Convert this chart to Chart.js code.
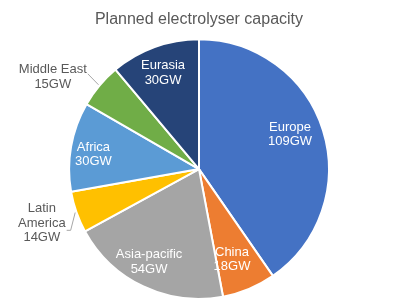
<!DOCTYPE html>
<html>
<head>
<meta charset="utf-8">
<script src="https://cdn.jsdelivr.net/npm/chart.js@4.4.1/dist/chart.umd.min.js"></script>
<style>
  html, body { margin: 0; padding: 0; background: #fff; }
  #wrap { width: 398px; height: 307px; }
</style>
</head>
<body>
<div id="wrap"><canvas id="pieChart" width="398" height="307"></canvas></div>
<script>
// Regions and planned capacity (GW), clockwise from 12 o'clock
const regions = ['Europe', 'China', 'Asia-pacific', 'Latin America', 'Africa', 'Middle East', 'Eurasia'];
const capacityGW = [109, 18, 54, 14, 30, 15, 30];

// Slice colours (Office palette)
const sliceColors = ['#4472C4', '#ED7D31', '#A5A5A5', '#FFC000', '#5B9BD5', '#70AD47', '#264478'];

// Label placement: radius factor and angle nudge (degrees) per slice
const labelRadius = [0.75, 0.74, 0.81, 1.28, 0.82, 1.33, 0.79];
const labelNudge = [-3.6, 2.6, 3, 0.3, -2.2, -7.8, -0.5];
const wrapName = [false, false, false, true, false, false, false];

// Plugin to draw the data labels (and leader lines for outside labels)
const sliceLabels = {
    id: 'sliceLabels',
    afterDatasetsDraw(chart) {
        const ctx = chart.ctx;
        const meta = chart.getDatasetMeta(0);
        ctx.save();
        ctx.font = '13px "Liberation Sans", Arial, sans-serif';
        ctx.textAlign = 'center';
        ctx.textBaseline = 'middle';
        meta.data.forEach((arc, i) => {
            const { x, y, startAngle, endAngle, outerRadius } = arc.getProps(['x', 'y', 'startAngle', 'endAngle', 'outerRadius'], true);
            const mid = (startAngle + endAngle) / 2;
            const a = mid + labelNudge[i] * Math.PI / 180;
            const r = outerRadius * labelRadius[i];
            const lx = x + Math.cos(a) * r;
            const ly = y + Math.sin(a) * r;
            const value = chart.data.datasets[0].data[i] + 'GW';
            const name = chart.data.labels[i];
            const lines = wrapName[i] ? name.split(' ').concat([value]) : [name, value];
            const lineH = 14.5;
            const outside = labelRadius[i] > 1;
            ctx.fillStyle = outside ? '#595959' : '#ffffff';
            const top = ly - (lines.length - 1) * lineH / 2;
            lines.forEach((t, k) => ctx.fillText(t, lx, top + k * lineH));

            if (outside) {
                // leader line from label towards slice edge
                const ex = x + Math.cos(mid) * outerRadius * 1.01;
                const ey = y + Math.sin(mid) * outerRadius * 1.01;
                const widest = Math.max(...lines.map(t => ctx.measureText(t).width));
                ctx.strokeStyle = '#A6A6A6';
                ctx.lineWidth = 1;
                ctx.beginPath();
                if (wrapName[i]) {
                    // horizontal stub at the middle line then up to the slice
                    const sx = lx + widest / 2 + 1;
                    const sy = ly + 7;
                    ctx.moveTo(sx, sy);
                    ctx.lineTo(sx + 4, sy);
                    ctx.lineTo(ex, ey);
                } else {
                    const sx = lx + widest / 2 + 1;
                    const sy = top + 4;
                    ctx.moveTo(sx, sy);
                    ctx.lineTo(ex, ey);
                }
                ctx.stroke();
            }
        });
        ctx.restore();
    }
};

new Chart(document.getElementById('pieChart'), {
    type: 'pie',
    data: {
        labels: regions,
        datasets: [{
            data: capacityGW,
            backgroundColor: sliceColors,
            borderColor: '#ffffff',
            borderWidth: 2
        }]
    },
    options: {
        responsive: false,
        animation: false,
        events: [],
        layout: { padding: { top: 0, bottom: 7, left: 0, right: 0 } },
        plugins: {
            legend: { display: false },
            tooltip: { enabled: false },
            title: {
                display: true,
                text: 'Planned electrolyser capacity',
                color: '#595959',
                font: { family: '"Liberation Sans", Arial, sans-serif', size: 16, weight: 'normal' },
                padding: { top: 10, bottom: 9 }
            }
        }
    },
    plugins: [sliceLabels]
});
</script>
</body>
</html>
